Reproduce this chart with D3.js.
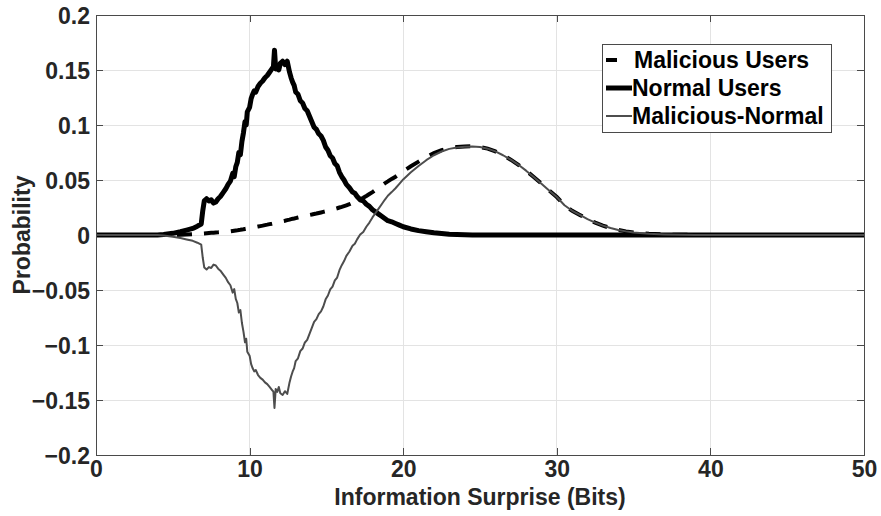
<!DOCTYPE html>
<html>
<head>
<meta charset="utf-8">
<script src="https://cdn.jsdelivr.net/npm/d3@7"></script>
<style>
  html, body { margin: 0; padding: 0; background: #fff; }
  svg text { font-family: "Liberation Sans", Arial, Helvetica, sans-serif; font-weight: bold; fill: #262626; }
</style>
</head>
<body>
<svg id="chart" width="881" height="516"></svg>
<script>
// Information surprise (bits) sample positions shared by both distributions
const surpriseBits = [
  0, 4, 4.4, 5, 5.5, 5.9, 6.3, 6.6, 6.85, 6.95, 7.05, 7.2, 7.35, 7.5, 7.65, 7.8, 7.95, 8.1,
  8.3, 8.45, 8.6, 8.75, 8.9, 9.0, 9.1, 9.2, 9.3, 9.4, 9.5, 9.6, 9.7, 9.78, 9.85, 10.0,
  10.1, 10.2, 10.3, 10.4, 10.55, 10.7, 10.85, 11.0, 11.15, 11.3, 11.45, 11.55, 11.62,
  11.7, 11.8, 11.9, 12.0, 12.15, 12.3, 12.45, 12.6, 12.7, 12.8, 12.9, 13.0, 13.15, 13.3,
  13.45, 13.6, 13.75, 13.9, 14.05, 14.2, 14.35, 14.5, 14.65, 14.8, 14.95, 15.1, 15.25,
  15.4, 15.55, 15.7, 15.85, 16.0, 16.15, 16.3, 16.5, 16.7, 16.85, 17.0, 17.2, 17.4, 17.6,
  17.8, 18.0, 18.2, 18.4, 18.6, 18.8, 19.0, 19.25, 19.5, 19.75, 20.0, 20.5, 21.0, 21.5,
  22.0, 22.5, 23.0, 23.5, 24.0, 24.5, 25.0, 25.5, 26.0, 26.5, 27.0, 27.5, 28.0, 28.5,
  29.0, 29.5, 30.0, 30.5, 31.0, 31.5, 32.0, 32.5, 33.0, 33.5, 34.0, 34.5, 35.0, 36.0,
  37.0, 38.0, 39.0, 40.0, 50
];

// Probability of each surprise value for malicious users
const maliciousUsers = [
  0, 0, 0, 0, 0.0002, 0.0004, 0.0007, 0.001, 0.0012, 0.0013, 0.0014, 0.0016, 0.0018, 0.002,
  0.0021, 0.0023, 0.0024, 0.0026, 0.0028, 0.003, 0.0031, 0.0033, 0.0036, 0.0038, 0.004,
  0.0042, 0.0045, 0.0047, 0.005, 0.0052, 0.0055, 0.0057, 0.0059, 0.0063, 0.0066, 0.0068,
  0.007, 0.0073, 0.0077, 0.0081, 0.0085, 0.009, 0.0094, 0.0099, 0.0103, 0.0106, 0.0108,
  0.0111, 0.0114, 0.0118, 0.0121, 0.0126, 0.013, 0.0135, 0.014, 0.0144, 0.0147, 0.015,
  0.0154, 0.0159, 0.0164, 0.0168, 0.0173, 0.0177, 0.0182, 0.0186, 0.0191, 0.0195, 0.02,
  0.0205, 0.021, 0.0215, 0.022, 0.0225, 0.0231, 0.0237, 0.0243, 0.025, 0.0256, 0.0263,
  0.027, 0.028, 0.0292, 0.03, 0.031, 0.0324, 0.0338, 0.0355, 0.0373, 0.039, 0.041, 0.043,
  0.045, 0.047, 0.0487, 0.051, 0.053, 0.0555, 0.058, 0.0625, 0.0667, 0.071, 0.0745,
  0.0772, 0.079, 0.08, 0.0805, 0.0806, 0.08, 0.0785, 0.076, 0.0725, 0.0685, 0.0638,
  0.0585, 0.0528, 0.0467, 0.0405, 0.0345, 0.027, 0.022, 0.0182, 0.0145, 0.0112, 0.0085,
  0.0063, 0.0046, 0.0033, 0.0023, 0.0011, 0.0005, 0.0002, 0.0001, 0, 0
];

// Probability of each surprise value for normal users
const normalUsers = [
  0, 0, 0.0005, 0.0015, 0.003, 0.0045, 0.006, 0.008, 0.01, 0.022, 0.031, 0.033, 0.031,
  0.032, 0.029, 0.03, 0.033, 0.035, 0.039, 0.042, 0.046, 0.049, 0.056, 0.053, 0.062,
  0.066, 0.075, 0.073, 0.085, 0.093, 0.103, 0.1, 0.112, 0.116, 0.124, 0.128, 0.131, 0.13,
  0.135, 0.138, 0.14, 0.143, 0.145, 0.148, 0.151, 0.153, 0.168, 0.151, 0.154, 0.15,
  0.156, 0.158, 0.155, 0.158, 0.148, 0.143, 0.139, 0.136, 0.13, 0.128, 0.122, 0.12,
  0.115, 0.113, 0.108, 0.103, 0.098, 0.096, 0.092, 0.09, 0.086, 0.08, 0.077, 0.072,
  0.07, 0.065, 0.063, 0.057, 0.053, 0.05, 0.046, 0.043, 0.039, 0.038, 0.035, 0.032,
  0.031, 0.028, 0.026, 0.023, 0.021, 0.019, 0.017, 0.015, 0.013, 0.012, 0.0105, 0.009,
  0.0075, 0.0055, 0.004, 0.003, 0.002, 0.0013, 0.0007, 0.0004, 0.0002, 0.0001, 0, 0, 0,
  0, 0, 0, 0, 0, 0, 0, 0, 0, 0, 0, 0, 0, 0, 0, 0, 0, 0, 0, 0, 0, 0, 0, 0
];

const xTickValues = [0, 10, 20, 30, 40, 50];
const yTickValues = [-0.2, -0.15, -0.1, -0.05, 0, 0.05, 0.1, 0.15, 0.2];
const legendLabels = ["Malicious Users", "Normal Users", "Malicious-Normal"];

const svg = d3.select("#chart");
const plotLeft = 96, plotRight = 864, plotTop = 15, plotBottom = 455;

const x = d3.scaleLinear().domain([0, 50]).range([plotLeft, plotRight]);
const y = d3.scaleLinear().domain([-0.2, 0.2]).range([plotBottom, plotTop]);

// grid
const grid = svg.append("g").attr("shape-rendering", "crispEdges");
grid.selectAll(".gx").data(xTickValues).join("line")
  .attr("x1", d => x(d)).attr("x2", d => x(d)).attr("y1", plotTop).attr("y2", plotBottom)
  .attr("stroke", "#e3e3e3");
grid.selectAll(".gy").data(yTickValues).join("line")
  .attr("x1", plotLeft).attr("x2", plotRight).attr("y1", d => y(d)).attr("y2", d => y(d))
  .attr("stroke", "#e3e3e3");

// curves
svg.append("clipPath").attr("id", "plotClip").append("rect")
  .attr("x", plotLeft).attr("y", plotTop).attr("width", plotRight - plotLeft).attr("height", plotBottom - plotTop);
const plot = svg.append("g").attr("clip-path", "url(#plotClip)");

const pts = arr => surpriseBits.map((b, i) => [b, arr[i]]);
const diffValues = maliciousUsers.map((m, i) => m - normalUsers[i]);
const line = d3.line().x(d => x(d[0])).y(d => y(d[1]));

plot.append("path").datum(pts(maliciousUsers)).attr("d", line)
  .attr("fill", "none").attr("stroke", "#000").attr("stroke-width", 4)
  .attr("stroke-dasharray", "15,12");
plot.append("path").datum(pts(normalUsers)).attr("d", line)
  .attr("fill", "none").attr("stroke", "#000").attr("stroke-width", 5)
  .attr("stroke-linejoin", "round");
plot.append("path").datum(pts(diffValues)).attr("d", line)
  .attr("fill", "none").attr("stroke", "#4d4d4d").attr("stroke-width", 2)
  .attr("stroke-linejoin", "round");

// axes box with inward ticks
const axisColor = "#4a4a4a";
const xAxisB = svg.append("g").attr("transform", `translate(0,${plotBottom})`)
  .call(d3.axisBottom(x).tickValues(xTickValues).tickSizeInner(-7).tickSizeOuter(0).tickPadding(14));
const xAxisT = svg.append("g").attr("transform", `translate(0,${plotTop})`)
  .call(d3.axisTop(x).tickValues(xTickValues).tickSizeInner(-7).tickSizeOuter(0).tickFormat(""));
const yAxisL = svg.append("g").attr("transform", `translate(${plotLeft},0)`)
  .call(d3.axisLeft(y).tickValues(yTickValues).tickSizeInner(-7).tickSizeOuter(0).tickPadding(6)
    .tickFormat(d => d3.format("")(+d.toFixed(2))));
const yAxisR = svg.append("g").attr("transform", `translate(${plotRight},0)`)
  .call(d3.axisRight(y).tickValues(yTickValues).tickSizeInner(-7).tickSizeOuter(0).tickFormat(""));
[xAxisB, xAxisT, yAxisL, yAxisR].forEach(g => {
  g.select(".domain").attr("stroke", axisColor).attr("shape-rendering", "crispEdges");
  g.selectAll(".tick line").attr("stroke", axisColor).attr("shape-rendering", "crispEdges");
  g.selectAll("text").attr("font-size", 23).attr("font-family", null).attr("fill", "#262626");
});
xAxisB.selectAll("text").attr("dy", "0.71em").attr("transform", "translate(0,-8)");
yAxisL.selectAll("text").attr("dy", "0.36em");

// axis titles
svg.append("text").attr("x", (plotLeft + plotRight) / 2).attr("y", 505)
  .attr("text-anchor", "middle").attr("font-size", 23).text("Information Surprise (Bits)");
svg.append("text").attr("transform", `translate(30,${(plotTop + plotBottom) / 2}) rotate(-90)`)
  .attr("text-anchor", "middle").attr("font-size", 23).text("Probability");

// legend
const lg = svg.append("g");
lg.append("rect").attr("x", 602.5).attr("y", 44.5).attr("width", 229).attr("height", 88)
  .attr("fill", "#fff").attr("stroke", axisColor);
const rowY = [60, 88, 116];
const sampleStyle = [
  { w: 4, c: "#000", dash: "11,30" },
  { w: 5, c: "#000", dash: null },
  { w: 2, c: "#4d4d4d", dash: null }
];
legendLabels.forEach((lab, i) => {
  lg.append("line").attr("x1", 606).attr("x2", 632).attr("y1", rowY[i]).attr("y2", rowY[i])
    .attr("stroke", sampleStyle[i].c).attr("stroke-width", sampleStyle[i].w)
    .attr("stroke-dasharray", sampleStyle[i].dash);
  lg.append("text").attr("x", i === 0 ? 634 : 632).attr("y", rowY[i] + 8)
    .attr("font-size", 23).style("fill", "#000").text(lab);
});
</script>
</body>
</html>
